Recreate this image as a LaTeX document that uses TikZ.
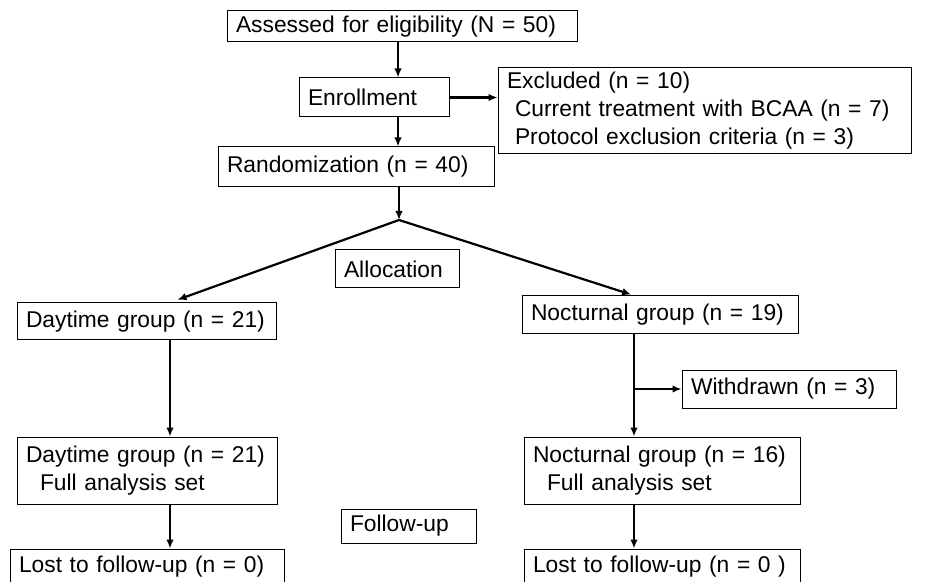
\documentclass[tikz,border=0pt]{standalone}
\usepackage{fontspec}
\setmainfont{Liberation Sans}
\usetikzlibrary{positioning, arrows.meta}

\begin{document}
\begin{tikzpicture}[
    x=0.5pt, y=-0.5pt, >={Latex[length=4.5pt, width=3.8pt]},
    box/.style={draw, line width=0.5pt, text width=#1, align=left, inner xsep=4.5pt, inner ysep=2pt,
      minimum height=19pt, font=\fontsize{11.4}{14}\selectfont},
    flowarrow/.style={->, line width=1.1pt}
  ]
  \useasboundingbox (0,0) rectangle (925,582);
  % Enrollment
  \node[box=166pt, minimum height=15.5pt] (assess) at (402,26.5) {Assessed for eligibility (N = 50)};
  \node[box=66pt, minimum height=19.5pt] (enroll) at (374,97.5) {Enrollment};
  \node[box=197.5pt, minimum height=42.5pt] (excl) at (704.5,110.5)
    {Excluded (n = 10)\\\hspace*{4pt}Current treatment with BCAA (n = 7)\\\hspace*{4pt}Protocol exclusion criteria (n = 3)};
  \node[box=129pt, minimum height=20pt] (rand) at (356,167) {Randomization (n = 40)};
  % Allocation
  \node[box=53pt] (alloc) at (397,269) {Allocation};
  \node[box=120.5pt, minimum height=18.5pt] (day) at (146.5,321.5) {Daytime group (n = 21)};
  \node[box=129pt] (noc) at (660,315) {Nocturnal group (n = 19)};
  \node[box=98pt] (wd) at (789,389) {Withdrawn (n = 3)};
  % Follow-up
  \node[box=121pt, minimum height=33.5pt] (dayfas) at (147,470.5)
    {Daytime group (n = 21)\\\hspace*{7pt}Full analysis set};
  \node[box=129pt, minimum height=33.5pt] (nocfas) at (662,470.5)
    {Nocturnal group (n = 16)\\\hspace*{7pt}Full analysis set};
  \node[box=58.5pt, minimum height=17pt] (fup) at (408.5,526) {Follow-up};
  \node[box=128pt, minimum height=18pt, below=22pt of dayfas] (daylost) {Lost to follow-up (n = 0)};
  \node[box=129pt, minimum height=18pt, below=22pt of nocfas] (noclost) {Lost to follow-up (n = 0 )};
  % connectors
  \coordinate (spine) at (398,0);
  \coordinate (split) at (399,220);
  \coordinate (dcol) at (170,0);
  \coordinate (ncol) at (634,0);
  \draw[flowarrow] (assess.south -| spine) -- (enroll.north -| spine);
  \draw[flowarrow] (enroll.east) -- (excl.west |- enroll.east);
  \draw[flowarrow] (enroll.south -| spine) -- (rand.north -| spine);
  \draw[flowarrow] (rand.south -| split) -- (split);
  \draw[flowarrow, shorten >=4pt] (split) -- (day.north -| dcol);
  \draw[flowarrow, shorten >=1.5pt] (split) -- (noc.north -| ncol);
  \draw[flowarrow] (day.south -| dcol) -- (dayfas.north -| dcol);
  \draw[flowarrow] (noc.south -| ncol) -- (nocfas.north -| ncol);
  \draw[flowarrow] (wd.west -| ncol) -- (wd.west);
  \draw[flowarrow] (dayfas.south -| dcol) -- (daylost.north -| dcol);
  \draw[flowarrow] (nocfas.south -| ncol) -- (noclost.north -| ncol);
\end{tikzpicture}
\end{document}
